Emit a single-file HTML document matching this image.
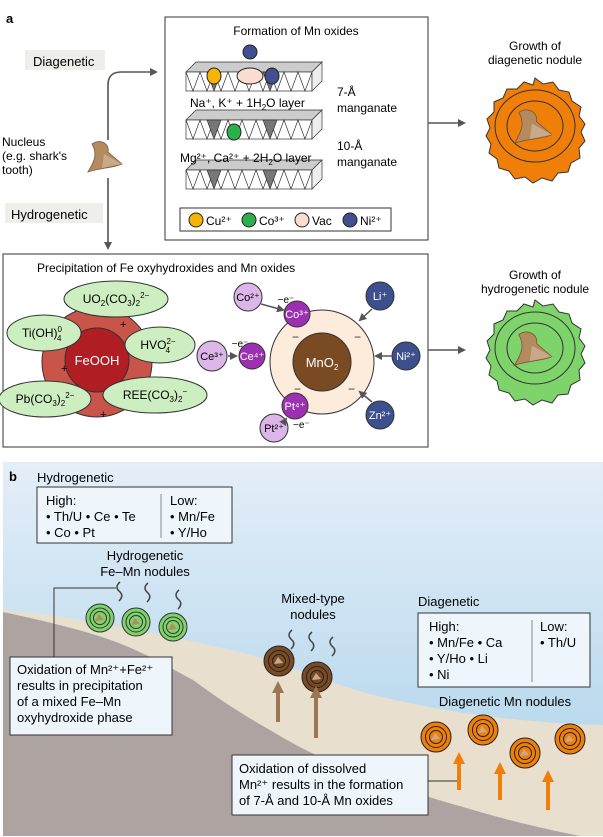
<!DOCTYPE html>
<html><head><meta charset="utf-8"><style>
body{margin:0;width:603px;height:837px;background:#fff;overflow:hidden}
svg{display:block;font-family:"Liberation Sans",sans-serif}
</style></head><body>
<svg width="603" height="837" viewBox="0 0 603 837" xmlns="http://www.w3.org/2000/svg">
<defs>
<marker id="ar" markerWidth="8" markerHeight="8" refX="6" refY="4" orient="auto" markerUnits="userSpaceOnUse"><path d="M0,0 L8,4 L0,8 z" fill="#555"/></marker>
<linearGradient id="sky" x1="0" y1="0" x2="0" y2="1"><stop offset="0" stop-color="#e4eef8"/><stop offset="1" stop-color="#a9d2ea"/></linearGradient>
<g id="tooth"><path d="M-12,-14 C-4,-20 6,-14 4,-6 L18,6 C10,10 -6,10 -16,14 C-10,4 -6,-4 -12,-14z" fill="#b48a5e" stroke="#7a5a3a" stroke-width="0.8"/><path d="M0,-4 L18,6 L-2,10z" fill="#c9a98a"/></g>
<g id="gn"><circle r="14" fill="#7ed46a" stroke="#333"/><circle r="10" fill="none" stroke="#333"/><circle r="6.5" fill="none" stroke="#333"/><path d="M-1,-4 L4,2 L-5,3z" fill="#b48a5e"/></g>
<g id="bn"><circle r="15" fill="#7a4a22" stroke="#222"/><circle r="10.5" fill="none" stroke="#222"/><circle r="6.5" fill="none" stroke="#222"/><path d="M-1,-4 L4,2 L-5,3z" fill="#c9a98a"/></g>
<g id="on"><circle r="15" fill="#f07f0a" stroke="#222"/><circle r="10.5" fill="none" stroke="#222"/><circle r="6.5" fill="none" stroke="#222"/><path d="M-1,-4 L4,2 L-5,3z" fill="#c9a98a"/></g>
</defs>
<text x="6" y="23" font-size="13" font-weight="bold">a</text>
<rect x="25" y="50" width="80" height="20" fill="#eeeeea"/><text x="33" y="66" font-size="13">Diagenetic</text>
<rect x="5" y="203" width="98" height="20" fill="#eeeeea"/><text x="11" y="219" font-size="13">Hydrogenetic</text>
<text x="2" y="146" font-size="12">Nucleus</text><text x="2" y="160" font-size="12">(e.g. shark's</text><text x="2" y="174" font-size="12">tooth)</text>
<use href="#tooth" transform="translate(104,158)"/>
<path d="M108,140 V85 Q108,72 121,72 H156" fill="none" stroke="#555" stroke-width="1.6" marker-end="url(#ar)"/>
<path d="M108,178 V248" fill="none" stroke="#555" stroke-width="1.6" marker-end="url(#ar)"/>
<rect x="165" y="17" width="263" height="223" fill="#fff" stroke="#333" stroke-width="1"/>
<text x="296" y="35" font-size="12" text-anchor="middle">Formation of Mn oxides</text>
<g stroke="#333" stroke-width="0.7">
<g id="slab"><path d="M186,72 L196,62 H322 L312,72z" fill="#ccc"/><rect x="186" y="72" width="126" height="19" fill="#fff"/><path d="M312,72 L322,62 V81 L312,91z" fill="#eee"/>
<path d="M186,72 l7,19 l7,-19 l7,19 l7,-19 l7,19 l7,-19 l7,19 l7,-19 l7,19 l7,-19 l7,19 l7,-19 l7,19 l7,-19 l7,19 l7,-19 l7,19 l7,-19" fill="none"/>
<path d="M207,72 l7,19 l7,-19z M263,72 l7,19 l7,-19z" fill="#777"/></g>
<use href="#slab" transform="translate(0,48)"/><use href="#slab" transform="translate(0,98)"/>
</g>
<circle cx="250" cy="52" r="7" fill="#3f4f8f" stroke="#222"/>
<ellipse cx="214" cy="76" rx="7" ry="8" fill="#f4b400" stroke="#222"/>
<ellipse cx="250" cy="76" rx="13" ry="8" fill="#fadcd0" stroke="#222"/>
<ellipse cx="272" cy="76" rx="7" ry="8" fill="#3f4f8f" stroke="#222"/>
<ellipse cx="234" cy="132" rx="7" ry="8" fill="#2bb04a" stroke="#222"/>
<text x="190" y="107" font-size="12">Na⁺, K⁺ + 1H<tspan font-size="8" dy="3">2</tspan><tspan dy="-3">O layer</tspan></text>
<text x="337" y="96" font-size="12">7-Å</text><text x="337" y="112" font-size="12">manganate</text>
<text x="180" y="162" font-size="12">Mg²⁺, Ca²⁺ + 2H<tspan font-size="8" dy="3">2</tspan><tspan dy="-3">O layer</tspan></text>
<text x="337" y="150" font-size="12">10-Å</text><text x="337" y="166" font-size="12">manganate</text>
<rect x="180" y="208" width="211" height="23" fill="#fff" stroke="#333"/>
<circle cx="196" cy="220" r="7" fill="#f4b400" stroke="#222"/><text x="206" y="225" font-size="12">Cu²⁺</text>
<circle cx="249" cy="220" r="7" fill="#2bb04a" stroke="#222"/><text x="259" y="225" font-size="12">Co³⁺</text>
<circle cx="302" cy="220" r="7" fill="#fadcd0" stroke="#222"/><text x="312" y="225" font-size="12">Vac</text>
<circle cx="350" cy="220" r="7" fill="#3f4f8f" stroke="#222"/><text x="360" y="225" font-size="12">Ni²⁺</text>
<path d="M428,123 H464" stroke="#555" stroke-width="1.6" marker-end="url(#ar)"/>
<text x="535" y="50" font-size="12" text-anchor="middle">Growth of</text><text x="535" y="64" font-size="12" text-anchor="middle">diagenetic nodule</text>
<path d="M535,78 l8,6 l10,-2 l6,8 l10,2 l3,9 l9,6 l-2,9 l6,8 l-4,8 l4,9 l-6,7 l1,10 l-9,5 l-3,9 l-10,1 l-6,8 l-10,-3 l-9,5 l-8,-6 l-10,2 l-6,-8 l-10,-3 l-2,-9 l-8,-6 l2,-9 l-5,-8 l4,-8 l-3,-9 l7,-7 l0,-10 l9,-4 l4,-9 l10,0 l7,-7 l9,3z" fill="#f07f0a" stroke="#333"/>
<ellipse cx="535" cy="126" rx="40" ry="36" fill="none" stroke="#333"/>
<ellipse cx="535" cy="126" rx="28" ry="25" fill="none" stroke="#333"/>
<use href="#tooth" transform="translate(532,128) scale(1.1)"/>
<rect x="3" y="254" width="425" height="193" fill="#fff" stroke="#333"/>
<text x="37" y="272" font-size="12">Precipitation of Fe oxyhydroxides and Mn oxides</text>
<circle cx="97" cy="362" r="55" fill="#c9544a" stroke="#333"/>
<circle cx="97" cy="360" r="32" fill="#b01e24" stroke="#333"/>
<text x="97" y="365" font-size="13" fill="#fff" text-anchor="middle">FeOOH</text>
<g fill="#cdeec0" stroke="#333">
<ellipse cx="116" cy="299" rx="52" ry="18"/><ellipse cx="44" cy="333" rx="37" ry="18"/><ellipse cx="160" cy="345" rx="35" ry="18"/><ellipse cx="45" cy="399" rx="46" ry="18"/><ellipse cx="155" cy="395" rx="52" ry="18"/></g>
<g font-size="12" text-anchor="middle">
<text x="116" y="303">UO<tspan font-size="8" dy="3">2</tspan><tspan dy="-3">(CO</tspan><tspan font-size="8" dy="3">3</tspan><tspan dy="-3">)</tspan><tspan font-size="8" dy="3">2</tspan><tspan font-size="8" dy="-8">2−</tspan></text>
<text x="42" y="337">Ti(OH)<tspan font-size="8" dy="-5">0</tspan><tspan font-size="8" dx="-5" dy="9">4</tspan></text>
<text x="158" y="349">HVO<tspan font-size="8" dy="-5">2−</tspan><tspan font-size="8" dx="-10" dy="9">4</tspan></text>
<text x="45" y="403">Pb(CO<tspan font-size="8" dy="3">3</tspan><tspan dy="-3">)</tspan><tspan font-size="8" dy="3">2</tspan><tspan font-size="8" dy="-8">2−</tspan></text>
<text x="155" y="399">REE(CO<tspan font-size="8" dy="3">3</tspan><tspan dy="-3">)</tspan><tspan font-size="8" dy="3">2</tspan><tspan font-size="8" dy="-8">−</tspan></text>
</g>
<text x="120" y="328" font-size="11">+</text><text x="61" y="372" font-size="11">+</text><text x="100" y="418" font-size="11">+</text>
<circle cx="322" cy="362" r="52" fill="#fdebdc" stroke="#333"/>
<circle cx="322" cy="362" r="29" fill="#7a4a22" stroke="#333"/>
<text x="322" y="367" font-size="13" fill="#fff" text-anchor="middle">MnO<tspan font-size="8" dy="3">2</tspan></text>
<g font-size="12" fill="#333"><text x="292" y="341">−</text><text x="354" y="341">−</text><text x="294" y="393">−</text><text x="348" y="393">−</text></g>
<g stroke="#333"><circle cx="297" cy="314" r="13" fill="#9b30b0"/><circle cx="252" cy="356" r="13" fill="#9b30b0"/><circle cx="295" cy="406" r="13" fill="#9b30b0"/>
<circle cx="248" cy="297" r="14" fill="#dcb6e8"/><circle cx="212" cy="356" r="15" fill="#dcb6e8"/><circle cx="274" cy="428" r="14" fill="#dcb6e8"/>
<circle cx="380" cy="296" r="14" fill="#3d4f8c"/><circle cx="406" cy="356" r="14" fill="#3d4f8c"/><circle cx="380" cy="415" r="14" fill="#3d4f8c"/></g>
<g font-size="11" text-anchor="middle" fill="#fff"><text x="297" y="318">Co³⁺</text><text x="252" y="360">Ce⁴⁺</text><text x="295" y="410">Pt⁴⁺</text><text x="380" y="300">Li⁺</text><text x="406" y="360">Ni²⁺</text><text x="380" y="419">Zn²⁺</text></g>
<g font-size="11" text-anchor="middle"><text x="248" y="301">Co²⁺</text><text x="212" y="360">Ce³⁺</text><text x="274" y="432">Pt²⁺</text>
<text x="286" y="303" font-size="10">−e⁻</text><text x="240" y="347" font-size="10">−e⁻</text></g>
<text x="293" y="428" font-size="10">−e⁻</text>
<g stroke="#555" stroke-width="1.5" fill="none"><path d="M261,304 L283,310" marker-end="url(#ar)"/><path d="M228,356 H236" marker-end="url(#ar)"/><path d="M284,422 L286,419" marker-end="url(#ar)"/>
<path d="M372,309 L360,320" marker-end="url(#ar)"/><path d="M392,356 H376" marker-end="url(#ar)"/><path d="M372,402 L360,392" marker-end="url(#ar)"/><path d="M428,350 H464" marker-end="url(#ar)"/></g>
<text x="535" y="279" font-size="12" text-anchor="middle">Growth of</text><text x="535" y="293" font-size="12" text-anchor="middle">hydrogenetic nodule</text>
<path d="M535,300 l8,6 l10,-2 l6,8 l10,2 l3,9 l9,6 l-2,9 l6,8 l-4,8 l4,9 l-6,7 l1,10 l-9,5 l-3,9 l-10,1 l-6,8 l-10,-3 l-9,5 l-8,-6 l-10,2 l-6,-8 l-10,-3 l-2,-9 l-8,-6 l2,-9 l-5,-8 l4,-8 l-3,-9 l7,-7 l0,-10 l9,-4 l4,-9 l10,0 l7,-7 l9,3z" fill="#7ed46a" stroke="#333"/>
<ellipse cx="535" cy="348" rx="40" ry="36" fill="none" stroke="#333"/><ellipse cx="535" cy="348" rx="28" ry="25" fill="none" stroke="#333"/>
<use href="#tooth" transform="translate(532,350) scale(1.1)"/>
<!-- part b -->
<rect x="3" y="462" width="600" height="374" fill="url(#sky)"/>
<path d="M3,610 C60,615 120,625 232,650 C300,668 340,688 386,698 C430,708 500,722 603,725 V836 H3z" fill="#e9dfce"/>
<path d="M3,612 C50,622 90,632 116,642 C150,655 170,668 193,680 C220,700 245,716 270,730 C300,748 320,758 347,767 C400,788 430,798 463,807 C500,818 530,826 580,836 H3z" fill="#ada4a2"/>
<text x="9" y="481" font-size="13" font-weight="bold">b</text>
<text x="37" y="482" font-size="13">Hydrogenetic</text>
<rect x="37" y="487" width="195" height="56" fill="#eef6fc" stroke="#333"/>
<line x1="161" y1="494" x2="161" y2="538" stroke="#888"/>
<g font-size="13"><text x="46" y="505">High:</text><text x="46" y="521">• Th/U  • Ce  • Te</text><text x="46" y="537">• Co     • Pt</text><text x="170" y="505">Low:</text><text x="170" y="521">• Mn/Fe</text><text x="170" y="537">• Y/Ho</text></g>
<text x="145" y="560" font-size="13" text-anchor="middle">Hydrogenetic</text><text x="145" y="576" font-size="13" text-anchor="middle">Fe–Mn nodules</text>
<path d="M54,657 V588 H116" fill="none" stroke="#333"/>
<g fill="none" stroke="#444" stroke-width="1.5"><path d="M120,582 q-6,5 0,10 q4,4 -1,9"/><path d="M148,583 q-6,5 0,10 q4,4 -1,9"/><path d="M179,590 q-6,5 0,10 q4,4 -1,9"/>
<path d="M292,630 q-6,5 0,10 q4,4 -1,9"/><path d="M312,632 q-6,5 0,10 q4,4 -1,9"/><path d="M333,637 q-6,5 0,10 q4,4 -1,9"/></g>
<use href="#gn" x="100" y="618"/><use href="#gn" x="136" y="622"/><use href="#gn" x="173" y="627"/>
<use href="#bn" x="279" y="661"/><use href="#bn" x="317" y="677"/>
<use href="#on" x="436" y="737"/><use href="#on" x="483" y="730"/><use href="#on" x="525" y="753"/><use href="#on" x="570" y="739"/>
<g fill="#9b7650"><path d="M276,722 V693 h-4 l6,-12 l6,12 h-4 v29z"/><path d="M314,738 V698 h-4 l6,-12 l6,12 h-4 v40z"/></g>
<g fill="#f07f0a"><path d="M457,790 V764 h-4 l6,-12 l6,12 h-4 v26z"/><path d="M498,800 V774 h-4 l6,-12 l6,12 h-4 v26z"/><path d="M546,810 V782 h-4 l6,-12 l6,12 h-4 v28z"/></g>
<text x="313" y="603" font-size="13" text-anchor="middle">Mixed-type</text><text x="313" y="619" font-size="13" text-anchor="middle">nodules</text>
<text x="418" y="606" font-size="13">Diagenetic</text>
<rect x="418" y="613" width="172" height="74" fill="#eef6fc" stroke="#333"/>
<line x1="532" y1="620" x2="532" y2="682" stroke="#888"/>
<g font-size="13"><text x="429" y="631">High:</text><text x="429" y="647">• Mn/Fe  • Ca</text><text x="429" y="663">• Y/Ho    • Li</text><text x="429" y="679">• Ni</text><text x="540" y="631">Low:</text><text x="540" y="647">• Th/U</text></g>
<text x="505" y="706" font-size="13" text-anchor="middle">Diagenetic Mn nodules</text>
<rect x="10" y="657" width="162" height="78" fill="#eef6fc" stroke="#333"/>
<g font-size="13"><text x="17" y="674">Oxidation of Mn²⁺+Fe²⁺</text><text x="17" y="690">results in precipitation</text><text x="17" y="706">of a mixed Fe–Mn</text><text x="17" y="722">oxyhydroxide phase</text></g>
<rect x="232" y="755" width="196" height="60" fill="#eef6fc" stroke="#333"/>
<line x1="428" y1="781" x2="457" y2="781" stroke="#333"/>
<g font-size="13"><text x="239" y="773">Oxidation of dissolved</text><text x="239" y="789">Mn²⁺ results in the formation</text><text x="239" y="805">of 7-Å and 10-Å Mn oxides</text></g>
</svg>
</body></html>
